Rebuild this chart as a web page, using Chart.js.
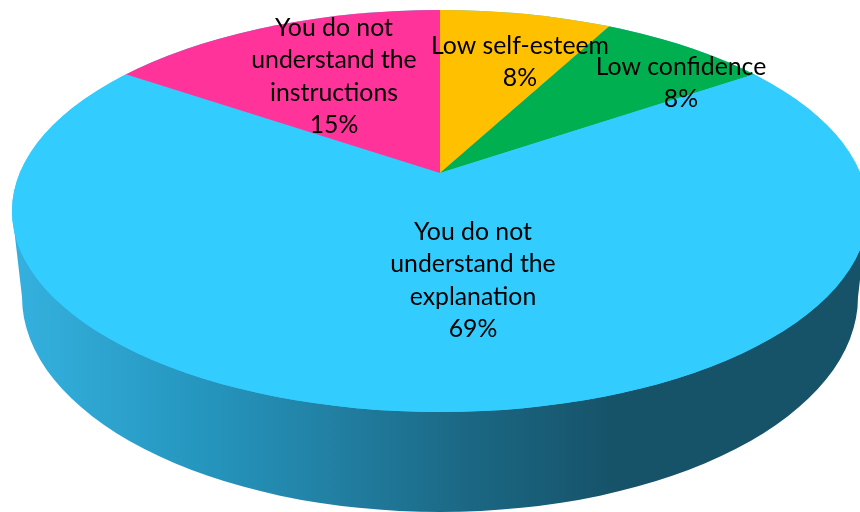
<!DOCTYPE html>
<html>
<head>
<meta charset="utf-8">
<style>html,body{margin:0;padding:0;background:#fff}canvas{display:block}</style>
<script src="https://cdn.jsdelivr.net/npm/chart.js@4"></script>
</head>
<body>
<canvas id="c" width="860" height="512"></canvas>
<script>
const categories = ['Low self-esteem', 'Low confidence', 'You do not understand the explanation', 'You do not understand the instructions'];
const counts = [1, 1, 9, 2];
const sliceColors = ['#FFC000', '#00B050', '#33CCFF', '#FF3399'];
const wrappedLabels = [['Low self-esteem'], ['Low confidence'], ['You do not', 'understand the', 'explanation'], ['You do not', 'understand the', 'instructions']];

const geom = {
  top: {x: 440, y: 211, rx: 428, ry: 201},
  bottom: {x: 440, y: 297, rx: 418, ry: 215},
  apex: {x: 440, y: 173},
  xScale: 2.5, yRatio: 0.455
};
const labelAnchors = [
  {x: 520, y: 46}, {x: 681, y: 67}, {x: 473, y: 232}, {x: 334, y: 28}
];
const lineStep = 32.3;

const pie3d = {
  id: 'pie3d',
  beforeDatasetsDraw(chart) {
    const c = chart.ctx, g = geom, t = g.top, b = g.bottom;
    c.save();
    const grad = c.createLinearGradient(20, 0, 620, 0);
    grad.addColorStop(0, '#34B0DE');
    grad.addColorStop(0.3, '#2596BE');
    grad.addColorStop(0.5, '#2282A6');
    grad.addColorStop(0.75, '#1B6783');
    grad.addColorStop(1, '#165268');
    c.fillStyle = grad;
    c.beginPath();
    c.moveTo(t.x - t.rx, t.y);
    c.lineTo(b.x - b.rx, b.y);
    c.ellipse(b.x, b.y, b.rx, b.ry, 0, Math.PI, 0, true);
    c.lineTo(t.x + t.rx, t.y);
    c.closePath();
    c.fill();
    c.beginPath();
    c.ellipse(t.x, t.y, t.rx, t.ry, 0, 0, Math.PI * 2);
    c.fillStyle = sliceColors[2];
    c.fill();
    c.clip();
    const arc = chart.getDatasetMeta(0).data[0];
    c.translate(g.apex.x, g.apex.y);
    c.scale(g.xScale, g.xScale * g.yRatio);
    c.translate(-arc.x, -arc.y);
  },
  afterDatasetsDraw(chart) {
    const c = chart.ctx;
    c.restore();
    c.save();
    c.fillStyle = '#000';
    c.font = '24.8px Lato';
    c.textAlign = 'center';
    c.textBaseline = 'middle';
    const total = counts.reduce((a, v) => a + v, 0);
    wrappedLabels.forEach((lines, i) => {
      const all = lines.concat(Math.round(counts[i] / total * 100) + '%');
      all.forEach((s, j) => c.fillText(s, labelAnchors[i].x, labelAnchors[i].y + j * lineStep));
    });
    c.restore();
  }
};

new Chart(document.getElementById('c'), {
  type: 'pie',
  data: {
    labels: categories,
    datasets: [{data: counts, backgroundColor: sliceColors, borderWidth: 0, hoverOffset: 0}]
  },
  options: {
    responsive: false,
    animation: false,
    events: [],
    layout: {padding: 0},
    plugins: {legend: {display: false}, tooltip: {enabled: false}}
  },
  plugins: [pie3d]
});
</script>
</body>
</html>
